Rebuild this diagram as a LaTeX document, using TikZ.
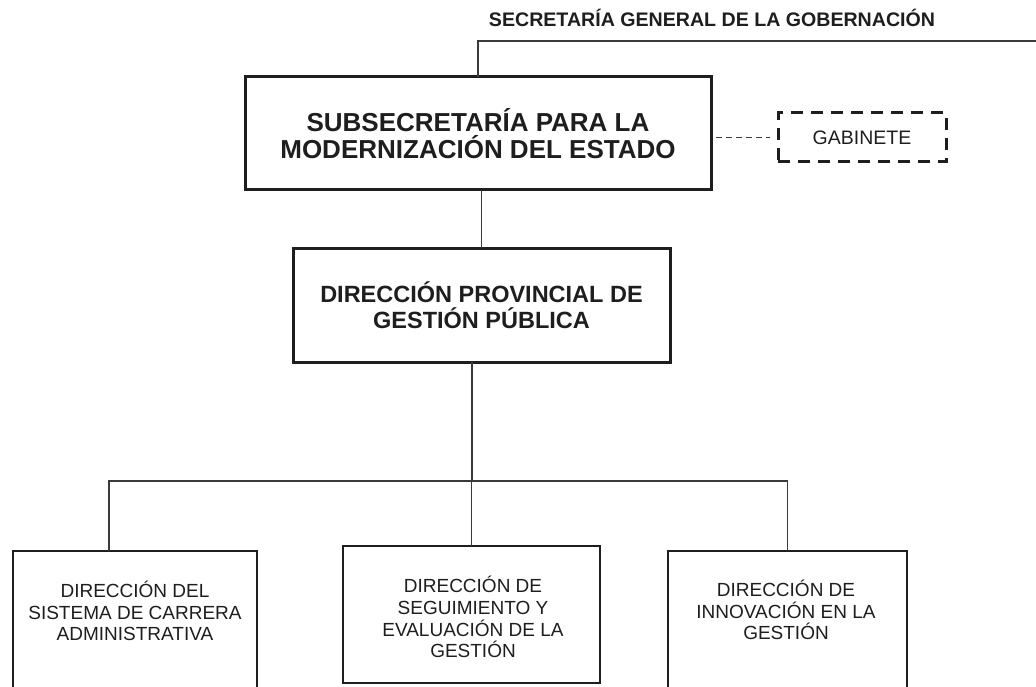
\documentclass[tikz,border=0pt]{standalone}
\usepackage{fontspec}
\setmainfont{Liberation Sans}
\definecolor{ink}{HTML}{1E1E1E}
\definecolor{wire}{HTML}{3A3A3A}
\begin{document}
\begin{tikzpicture}[x=1pt,y=-1pt,
  thickbox/.style={draw=ink, line width=3pt, inner sep=0pt, outer sep=0pt, align=center, text=ink, font=\bfseries\fontsize{26}{27}\selectfont},
  gabbox/.style={draw=ink, line width=3pt, dash pattern=on 12pt off 8pt, inner sep=0pt, outer sep=0pt, text=ink, font=\fontsize{19.5}{20}\selectfont},
  smallbox/.style={draw=ink, line width=1.2pt, inner sep=0pt, outer sep=0pt},
  smalltext/.style={align=center, text=ink, inner sep=0pt, font=\fontsize{19}{21.7}\selectfont},
  titletext/.style={text=ink, inner sep=0pt, font=\bfseries\fontsize{19.6}{20}\selectfont},
  wireline/.style={draw=wire, line width=1.3pt},
  dashline/.style={draw=wire, line width=1.2pt, dash pattern=on 6pt off 4pt}
]
\useasboundingbox (0,0) rectangle (1036,687);
\clip (0,0) rectangle (1036,687);
\fill[white] (0,0) rectangle (1036,687);

\node[titletext, anchor=base] (sec) at (712,27) {SECRETARÍA GENERAL DE LA GOBERNACIÓN};

\node[thickbox, minimum width=466pt, minimum height=113pt] (sub) at (478,133.5) {\raisebox{-3pt}{\parbox{460pt}{\centering SUBSECRETARÍA PARA LA\\MODERNIZACIÓN DEL ESTADO}}};
\node[gabbox, minimum width=168pt, minimum height=49pt] (gab) at (862,137.5) {GABINETE};
\node[thickbox, font=\bfseries\fontsize{23.5}{26}\selectfont, minimum width=377pt, minimum height=114pt] (dpg) at (481.5,305) {\raisebox{-2pt}{\parbox{370pt}{\centering DIRECCIÓN PROVINCIAL DE\\GESTIÓN PÚBLICA}}};

\node[smallbox, minimum width=244pt, minimum height=170pt, anchor=north] (d1) at (135,551) {};
\node[smallbox, minimum width=257pt, minimum height=137pt, anchor=north] (d2) at (471.5,546) {};
\node[smallbox, minimum width=239pt, minimum height=170pt, anchor=north] (d3) at (787.5,551) {};

\node[smalltext] (t1) at (135,611) {DIRECCIÓN DEL\\SISTEMA DE CARRERA\\ADMINISTRATIVA};
\node[smalltext] (t2) at (473,617) {DIRECCIÓN DE\\SEGUIMIENTO Y\\EVALUACIÓN DE LA\\GESTIÓN};
\node[smalltext] (t3) at (786,610) {DIRECCIÓN DE\\INNOVACIÓN EN LA\\GESTIÓN};

\coordinate (topR) at (1036,41);
\coordinate (topL) at (478,41);
\coordinate (hub) at (472,481);
\coordinate (j1) at (109,481);

\draw[wireline] (topR) -- (topL) -- (sub.north);
\draw[wireline] (dpg.north |- sub.south) -- (dpg.north);
\draw[wireline] (dpg.south -| hub) -- (hub);
\draw[wireline] (j1 |- d1.north) -- (j1) -- (d3.north |- hub) -- (d3.north);
\draw[wireline] (d2.north |- hub) -- (d2.north);
\draw[dashline, shorten <=5pt, shorten >=8pt] (sub.east |- gab.west) -- (gab.west);
\end{tikzpicture}
\end{document}
